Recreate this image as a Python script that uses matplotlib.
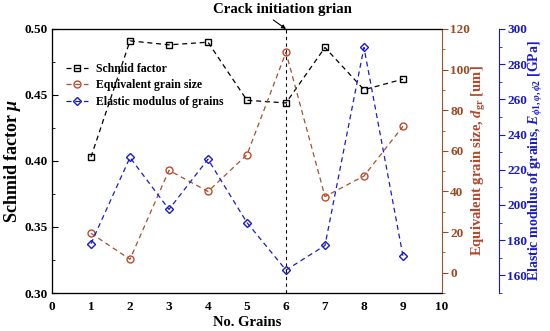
import matplotlib
matplotlib.use("Agg")
import matplotlib.pyplot as plt
from matplotlib.ticker import MultipleLocator

grains = [1, 2, 3, 4, 5, 6, 7, 8, 9]
schmid = [0.403, 0.491, 0.488, 0.490, 0.446, 0.444, 0.486, 0.454, 0.462]
grain_size = [19.4, 6.6, 50.4, 40.0, 58.1, 108.5, 37.5, 47.6, 72.1]
modulus = [178.0, 227.0, 197.5, 226.0, 190.0, 163.0, 177.0, 289.5, 171.0]
crack_grain = 6

plt.rcParams['font.family'] = ['Liberation Serif', 'DejaVu Serif']
plt.rcParams['font.weight'] = 'bold'
plt.rcParams['mathtext.fontset'] = 'custom'
plt.rcParams['mathtext.it'] = 'Liberation Serif:italic:bold'
plt.rcParams['mathtext.rm'] = 'Liberation Serif:bold'
plt.rcParams['mathtext.bf'] = 'Liberation Serif:bold'

RED_T = '#9a4a22'
RED_L = '#b8452a'
RED_M = '#c04a2a'
BLUE = '#1a1acc'
TICK_FS = 9.5

fig = plt.figure(figsize=(5.5, 3.31), dpi=100)
ax1 = fig.add_axes([0.0945, 0.1148, 0.7091, 0.7976])
ax2 = ax1.twinx()
ax3 = ax1.twinx()
ax3.spines['right'].set_position(('axes', 1.146))

l1, = ax1.plot(grains, schmid, ls=(0, (4, 3)), lw=0.9, color='black', marker='s',
               ms=4.5, mfc='none', mec='black', mew=1.0, label='Schmid factor')
l2, = ax2.plot(grains, grain_size, ls=(0, (4, 3)), lw=0.9, color='#a0522d', marker='o',
               ms=5, mfc='none', mec=RED_M, mew=1.0, label='Equivalent grain size')
l3, = ax3.plot(grains, modulus, ls=(0, (4, 3)), lw=0.9, color=BLUE, marker='D',
               ms=4.5, mfc='none', mec=BLUE, mew=1.0, label='Elastic modulus of grains')

ax1.axvline(crack_grain, color='black', ls=(0, (3, 3)), lw=0.8)

ax1.set_xlim(0, 10)
ax1.set_ylim(0.30, 0.50)
ax2.set_ylim(-10, 120)
ax3.set_ylim(150, 300)

ax1.xaxis.set_major_locator(MultipleLocator(1))
ax1.yaxis.set_major_locator(MultipleLocator(0.05))
ax1.yaxis.set_minor_locator(MultipleLocator(0.025))
ax1.yaxis.set_major_formatter(matplotlib.ticker.FormatStrFormatter('%.2f'))
ax1.tick_params(axis='both', which='both', direction='in', labelsize=TICK_FS)
ax1.tick_params(axis='y', which='major', length=4, pad=3)
ax1.tick_params(axis='y', which='minor', length=2)
ax1.tick_params(axis='x', length=0, pad=6)
ax1.spines['right'].set_visible(False)
ax1.spines['top'].set_visible(True)

ax2.yaxis.set_major_locator(MultipleLocator(20))
ax2.yaxis.set_minor_locator(MultipleLocator(10))
ax2.tick_params(axis='y', which='both', direction='out', colors=RED_T, labelsize=TICK_FS)
ax2.tick_params(axis='y', which='major', length=4, pad=2)
ax2.tick_params(axis='y', which='minor', length=2)
ax2.spines['right'].set_color('#a0522d')
ax2.set_yticks([0, 20, 40, 60, 80, 100, 120])

ax3.yaxis.set_major_locator(MultipleLocator(20))
ax3.yaxis.set_minor_locator(MultipleLocator(10))
ax3.tick_params(axis='y', which='both', direction='out', colors=BLUE, labelsize=TICK_FS)
ax3.tick_params(axis='y', which='major', length=4, pad=2)
ax3.tick_params(axis='y', which='minor', length=2)
ax3.spines['right'].set_color(BLUE)
ax3.set_yticks([160, 180, 200, 220, 240, 260, 280, 300])

for lab in ax1.get_xticklabels() + ax1.get_yticklabels():
    lab.set_fontweight('bold')
for lab in ax2.get_yticklabels() + ax3.get_yticklabels():
    lab.set_fontweight('bold')

ax1.set_xlabel('No. Grains', fontsize=10.5, fontweight='bold', labelpad=2)
ax1.set_ylabel(r'Schmid factor $\mu$', fontsize=13, fontweight='bold', labelpad=1)
ax2.set_ylabel(r'Equivalent grain size, $d_{\rm gr}$ [um]', fontsize=10.5, fontweight='bold',
               color=RED_L, labelpad=0)
ax3.set_ylabel(r'Elastic modulus of grains, $E_{\phi1,\varphi,\phi2}$ [GPa]', fontsize=10,
               fontweight='bold', color=BLUE, labelpad=0)

ax1.annotate('Crack initiation grian', xy=(crack_grain, 0.50), xytext=(5.9, 0.5145),
             textcoords='data', ha='center', va='center', fontsize=10.7, fontweight='bold',
             arrowprops=dict(arrowstyle='-|>', color='black', lw=0.8, mutation_scale=6,
                             shrinkA=1, shrinkB=0, relpos=(0.4, 0.0)),
             annotation_clip=False)

leg = ax3.legend(handles=[l1, l2, l3], loc='upper left', bbox_to_anchor=(0.023, 0.89),
                 frameon=False, fontsize=8.5, handlelength=1.9, handletextpad=0.7,
                 labelspacing=0.4, borderaxespad=0)
for t in leg.get_texts():
    t.set_fontweight('bold')

fig.savefig('out.png', dpi=100)
